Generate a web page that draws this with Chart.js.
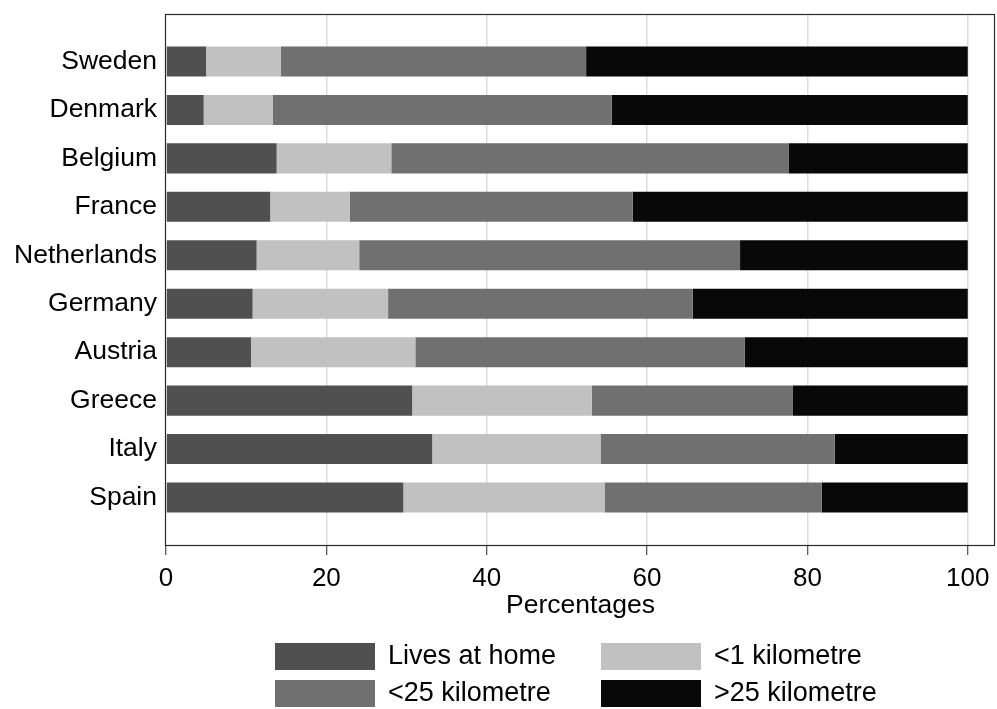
<!DOCTYPE html>
<html><head><meta charset="utf-8">
<script src="https://cdn.jsdelivr.net/npm/chart.js@4"></script>
<style>html,body{margin:0;padding:0;background:#fff;overflow:hidden}</style>
</head><body>
<canvas id="c" width="997" height="709" style="display:block;width:997px;height:709px"></canvas>
<script>
const countries = ['Sweden','Denmark','Belgium','France','Netherlands','Germany','Austria','Greece','Italy','Spain'];
const seriesNames = ['Lives at home','<1 kilometre','<25 kilometre','>25 kilometre'];
const livesAtHome = [5.0, 4.7, 13.8, 13.0, 11.3, 10.8, 10.6, 30.7, 33.2, 29.6];
const under1km    = [9.3, 8.6, 14.3, 9.9, 12.8, 16.9, 20.5, 22.4, 21.0, 25.1];
const under25km   = [38.1, 42.3, 49.6, 35.3, 47.5, 38.0, 41.1, 25.1, 29.2, 27.1];
const over25km    = [47.6, 44.4, 22.3, 41.8, 28.4, 34.3, 27.8, 21.8, 16.6, 18.2];
const xTicks = [0, 20, 40, 60, 80, 100];
const xAxisTitle = 'Percentages';

const seriesValues = [livesAtHome, under1km, under25km, over25km];
const seriesColors = ['#505050', '#c1c1c1', '#707070', '#080808'];
const FONT = '"Liberation Sans", Arial, Helvetica, sans-serif';

const datasets = seriesValues.map((vals, s) => ({
  label: seriesNames[s],
  data: vals.map((v, i) => ({ x: v, y: i })),
  backgroundColor: seriesColors[s],
  borderWidth: 0,
  categoryPercentage: 1,
  barPercentage: 0.62
}));

const framePlugin = {
  id: 'frame',
  afterDraw(chart) {
    const { ctx, chartArea: a } = chart;
    ctx.save();
    ctx.strokeStyle = '#2a2a2a';
    ctx.lineWidth = 1.2;
    ctx.strokeRect(a.left - 0.5, a.top + 0.5, a.right - a.left, a.bottom - a.top);
    ctx.restore();
  }
};

const legendPlugin = {
  id: 'gridLegend',
  afterDraw(chart) {
    const ctx = chart.ctx;
    const cols = [275, 601], rows = [643, 680];
    ctx.save();
    chart.data.datasets.forEach((d, i) => {
      const x = cols[i % 2], y = rows[Math.floor(i / 2)];
      ctx.fillStyle = d.backgroundColor;
      ctx.fillRect(x, y, 100, 27);
      ctx.fillStyle = '#000';
      ctx.font = '27px ' + FONT;
      ctx.textBaseline = 'middle';
      ctx.textAlign = 'left';
      ctx.fillText(d.label, x + 113, y + 14);
    });
    ctx.restore();
  }
};

new Chart(document.getElementById('c'), {
  type: 'bar',
  data: { datasets },
  options: {
    indexAxis: 'y',
    responsive: false,
    animation: false,
    devicePixelRatio: 1,
    layout: { padding: { top: 14, right: 2, bottom: 87, left: 0 } },
    plugins: { legend: { display: false }, tooltip: { enabled: false } },
    scales: {
      x: {
        type: 'linear', stacked: true, position: 'bottom',
        min: 0, max: 103.4, offset: false,
        afterBuildTicks: s => { s.ticks = xTicks.map(v => ({ value: v })); },
        afterFit: s => { s.height = 77; s.paddingLeft = 0; s.paddingRight = 0; },
        ticks: { autoSkip: false, maxRotation: 0, padding: 8, color: '#000', font: { family: FONT, size: 26 } },
        grid: {
          color: c => (c.tick && c.tick.value === 0) ? 'rgba(0,0,0,0)' : '#dedede',
          lineWidth: 1.5, drawTicks: true, tickLength: 10, tickColor: '#2a2a2a', tickWidth: 1
        },
        border: { display: false },
        title: { display: true, text: xAxisTitle, color: '#000', padding: 0, font: { family: FONT, size: 26.5 } }
      },
      y: {
        type: 'linear', stacked: true, reverse: true, offset: false,
        min: -0.98, max: 9.98,
        afterBuildTicks: s => { s.ticks = countries.map((c, i) => ({ value: i })); },
        afterFit: s => { s.width = 166; s.paddingTop = 0; s.paddingBottom = 0; },
        ticks: { autoSkip: false, padding: 9, color: '#000', font: { family: FONT, size: 26.5 },
                 callback: v => countries[v] },
        grid: { display: false, drawTicks: false, offset: false },
        border: { display: false }
      }
    }
  },
  plugins: [framePlugin, legendPlugin]
});
</script>
</body></html>
